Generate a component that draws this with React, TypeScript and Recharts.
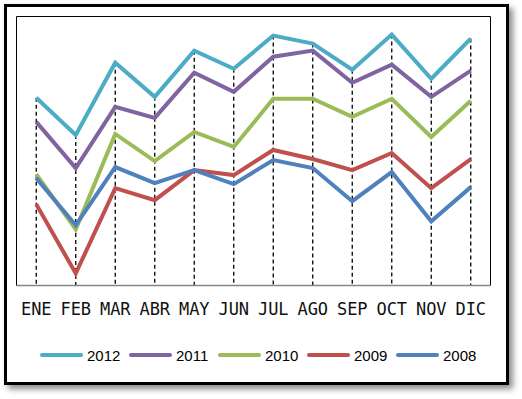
import React from 'react';
import { LineChart, Line, XAxis, YAxis, ReferenceLine, ReferenceArea, Legend } from 'recharts';

const months = ['ENE', 'FEB', 'MAR', 'ABR', 'MAY', 'JUN', 'JUL', 'AGO', 'SEP', 'OCT', 'NOV', 'DIC'];
const v2012 = [187, 150, 222, 188, 234, 216, 249, 241, 215, 250, 206, 246];
const v2011 = [163, 117, 178, 167, 212, 193, 228, 234, 202, 220, 188, 214];
const v2010 = [111, 56, 151, 124, 153, 138, 186, 186, 168, 186, 148, 184];
const v2009 = [81, 12, 97, 85, 115, 110, 135, 126, 115, 132, 97, 126];
const v2008 = [107, 60, 118, 102, 115, 101, 125, 117, 84, 113, 64, 98];

const yMax = 268;

const series = [
  { key: 'y2012', name: '2012', color: '#4BACC6', values: v2012 },
  { key: 'y2011', name: '2011', color: '#8064A2', values: v2011 },
  { key: 'y2010', name: '2010', color: '#9BBB59', values: v2010 },
  { key: 'y2009', name: '2009', color: '#C0504D', values: v2009 },
  { key: 'y2008', name: '2008', color: '#4F81BD', values: v2008 },
];

const data = months.map((m, i) => {
  const row: Record<string, any> = { m };
  series.forEach((s) => {
    row[s.key] = s.values[i];
  });
  return row;
});

const LegendContent = () => (
  <div style={{ display: 'flex', alignItems: 'center', height: 20 }}>
    {series.map((s) => (
      <div key={s.key} style={{ display: 'flex', alignItems: 'center', width: 89 }}>
        <span
          style={{
            display: 'inline-block',
            width: 43,
            height: 4,
            borderRadius: 2,
            background: s.color,
            marginRight: 4,
          }}
        />
        <span style={{ fontFamily: 'Liberation Sans, Arial, sans-serif', fontSize: 15, color: '#000' }}>
          {s.name}
        </span>
      </div>
    ))}
  </div>
);

export default function App() {
  return (
    <div style={{ position: 'absolute', left: 0, top: 0, width: 522, height: 399, background: '#fff' }}>
      <div
        style={{
          position: 'absolute',
          left: 4,
          top: 4,
          width: 505,
          height: 381,
          boxSizing: 'border-box',
          border: '3px solid #000',
          boxShadow: '4px 4px 6px rgba(0,0,0,0.45)',
          background: '#fff',
        }}
      />
      <div style={{ position: 'absolute', left: 0, top: 0 }}>
        <LineChart width={522} height={399} data={data} margin={{ top: 16.5, right: 31.5, left: 16.5, bottom: 53.5 }}>
          <XAxis
            dataKey="m"
            height={40}
            padding={{ left: 19.75, right: 19.75 }}
            axisLine={{ stroke: '#868686', strokeWidth: 1.5 }}
            tickLine={false}
            tickMargin={11}
            interval={0}
            tick={{ fontFamily: 'DejaVu Sans Mono, monospace', fontSize: 17, fill: '#111' }}
          />
          <XAxis xAxisId="full" type="number" hide height={0} />
          <YAxis hide width={0} domain={[0, yMax]} />
          <ReferenceArea xAxisId="full" y1={0} y2={yMax} fill="none" stroke="#000" strokeWidth={1} />
          {months.map((m, i) => (
            <ReferenceLine
              key={m}
              segment={[
                { x: m, y: v2012[i] },
                { x: m, y: 0 },
              ]}
              stroke="#000"
              strokeWidth={1.3}
              strokeDasharray="4 3"
            />
          ))}
          {series.map((s) => (
            <Line
              key={s.key}
              type="linear"
              dataKey={s.key}
              name={s.name}
              stroke={s.color}
              strokeWidth={4}
              dot={false}
              activeDot={false}
              isAnimationActive={false}
            />
          ))}
          <Legend
            verticalAlign="bottom"
            height={20}
            content={<LegendContent />}
            wrapperStyle={{ left: 40, width: 450, top: 345 }}
          />
        </LineChart>
      </div>
    </div>
  );
}
